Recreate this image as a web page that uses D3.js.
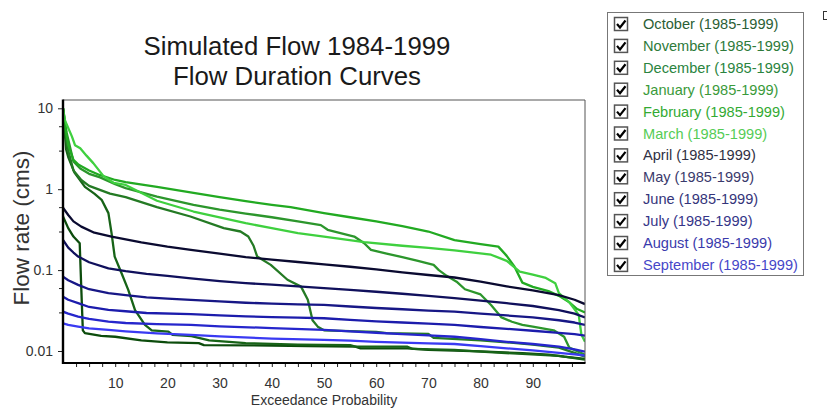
<!DOCTYPE html>
<html><head><meta charset="utf-8">
<script src="https://cdn.jsdelivr.net/npm/d3@7"></script>
<style>
body{margin:0;background:#fff;}
svg{display:block;font-family:"Liberation Sans",Arial,sans-serif;}
</style>
</head><body>
<svg id="chart" width="827" height="409"></svg>
<script>
// ---------------- DATA ----------------
const months = ["October","November","December","January","February","March",
                "April","May","June","July","August","September"];
const period = "(1985-1999)";

// [exceedance probability (%), flow (cms)]
const octFlow = [[0,0.46],[1,0.33],[2,0.26],[3.2,0.215],[3.5,0.06],[3.8,0.018],[4.2,0.0166],[7.3,0.0154],[10,0.015],[15,0.0135],[20,0.0128],[26,0.0125],[27,0.0118],[40,0.0117],[47,0.0115],[56,0.0113],[57,0.0108],[66,0.0108],[70,0.0103],[80,0.0099],[88,0.0094],[93,0.009],[96,0.0085],[100,0.008]];
const novFlow = [[0,10],[0.3,5.5],[0.6,3.1],[1,2.5],[2.2,1.6],[4.2,1.07],[6,0.88],[7.4,0.74],[8.7,0.506],[9.3,0.286],[9.9,0.147],[11.2,0.092],[12.5,0.057],[13.8,0.032],[15.7,0.021],[17,0.018],[20.2,0.0174],[21,0.0158],[24.6,0.0153],[28,0.0135],[35,0.0125],[45,0.012],[55,0.0118],[56,0.0113],[66,0.0113],[67,0.0106],[75,0.0103],[80,0.0098],[88,0.0092],[95,0.0087],[100,0.0078]];
const decFlow = [[0,10],[0.5,4.5],[1,3.0],[2,1.7],[3.5,1.3],[5,1.1],[9,0.88],[12,0.8],[18,0.6],[24.4,0.46],[30.8,0.33],[34,0.30],[35.5,0.26],[36.5,0.2],[37.2,0.147],[39.8,0.116],[43,0.076],[45.6,0.0625],[46.9,0.043],[47.8,0.024],[48.8,0.02],[50,0.018],[60,0.0172],[62,0.0166],[70,0.0163],[71,0.0145],[80,0.0135],[85,0.0128],[90,0.012],[95,0.011],[98,0.0095],[100,0.0085]];
const janFlow = [[0,10],[0.7,5],[2,2.2],[3.3,1.8],[5,1.55],[7.1,1.4],[10,1.15],[12,1.03],[18,0.81],[25,0.64],[30,0.56],[35,0.5],[40,0.45],[45,0.40],[49.4,0.36],[50.7,0.315],[55.8,0.26],[57.7,0.215],[59,0.178],[62,0.16],[65,0.145],[68,0.13],[71,0.116],[72,0.10],[73.5,0.085],[75.4,0.072],[77,0.058],[80,0.05],[82,0.037],[84,0.026],[86,0.023],[88,0.021],[90,0.02],[94,0.018],[96,0.015],[97,0.011],[100,0.009]];
const febFlow = [[0,10],[0.5,5.5],[1,3.5],[2,2.3],[3,2.0],[5,1.7],[7,1.5],[10,1.3],[12,1.22],[18,1.07],[25,0.9],[30,0.8],[35,0.71],[40,0.64],[43.6,0.6],[50,0.506],[55,0.45],[60,0.4],[65,0.35],[70,0.3],[75,0.235],[80,0.21],[83.4,0.195],[85,0.15],[86.5,0.11],[88,0.07],[90,0.062],[93,0.055],[95,0.048],[97,0.04],[98.5,0.033],[100,0.03]];
const marFlow = [[0,10],[0.4,7],[1.7,4.5],[2.3,3.5],[3.3,3.2],[4.5,2.6],[5.8,2.1],[7.8,1.44],[9.7,1.2],[12,1.13],[18,0.72],[25,0.53],[30,0.45],[35,0.38],[40,0.33],[45,0.286],[50,0.26],[57.7,0.222],[65,0.2],[70,0.188],[75,0.175],[82,0.155],[85,0.13],[87.5,0.096],[90,0.088],[92.5,0.08],[94.3,0.069],[95,0.052],[97,0.04],[98.8,0.028],[99.3,0.016],[100,0.013]];
const aprFlow = [[0,0.59],[1,0.48],[2,0.40],[3.5,0.345],[6,0.29],[9.3,0.26],[15,0.22],[20,0.195],[24.5,0.178],[30,0.16],[35,0.145],[40,0.135],[45,0.126],[50,0.118],[55,0.11],[60,0.102],[65,0.094],[70,0.087],[75,0.081],[80,0.072],[85,0.063],[90,0.056],[95,0.049],[98,0.043],[100,0.038]];
const mayFlow = [[0,0.236],[1,0.19],[2,0.165],[2.9,0.147],[5,0.125],[8.7,0.105],[12,0.097],[16,0.09],[20,0.085],[24.5,0.079],[30,0.073],[35,0.069],[40,0.066],[45,0.063],[50,0.06],[55,0.057],[60,0.054],[65,0.051],[70,0.048],[75,0.045],[80,0.042],[85,0.039],[90,0.036],[95,0.032],[98,0.029],[100,0.026]];
const junFlow = [[0,0.083],[1,0.075],[2.9,0.0656],[5,0.058],[8.7,0.0518],[12,0.049],[16,0.046],[20,0.0445],[24.5,0.0428],[30,0.041],[35,0.0395],[40,0.0385],[45,0.0378],[50,0.0371],[55,0.0355],[60,0.034],[65,0.0328],[70,0.0316],[75,0.0306],[80,0.029],[85,0.0275],[90,0.026],[95,0.024],[98,0.0225],[100,0.021]];
const julFlow = [[0,0.047],[1,0.043],[2.9,0.039],[5,0.035],[8.7,0.0322],[12,0.031],[16,0.0295],[24.5,0.0285],[30,0.0275],[35,0.0268],[40,0.0262],[45,0.0258],[50,0.0254],[55,0.0243],[60,0.0233],[65,0.0225],[70,0.0218],[75,0.021],[80,0.0198],[85,0.0188],[90,0.0178],[95,0.0168],[98,0.0162],[100,0.0155]];
const augFlow = [[0,0.0306],[1,0.029],[2.9,0.0266],[5,0.025],[8.7,0.0231],[12,0.0222],[18,0.0215],[24.5,0.021],[30,0.0202],[40,0.0192],[50,0.0182],[55,0.0175],[60,0.0168],[65,0.0162],[70,0.0156],[75,0.015],[80,0.014],[85,0.013],[90,0.0122],[95,0.0113],[98,0.0105],[100,0.0098]];
const sepFlow = [[0,0.022],[1,0.021],[2.9,0.02],[5,0.019],[8.7,0.0182],[12,0.0175],[18,0.0165],[24.5,0.0158],[30,0.0152],[40,0.0142],[50,0.0137],[55,0.0134],[60,0.013],[65,0.0127],[70,0.0124],[75,0.0122],[80,0.0115],[85,0.0108],[90,0.0102],[95,0.0095],[98,0.0091],[100,0.0088]];

const xTickValues = [10,20,30,40,50,60,70,80,90];
const yTickValues = [10,1,0.1,0.01];
const yTickLabels = ["10","1","0.1","0.01"];
const titleLines = ["Simulated Flow 1984-1999","Flow Duration Curves"];

// ---------------- STYLE ----------------
const lineColors = ["#0c4c0c","#176317","#247a24","#2c962c","#22aa22","#3fd03f",
                    "#0a0a30","#10105c","#171786","#1c1cac","#2626cc","#3a3af2"];
const textColors = ["#2b5e35","#2e7a3a","#2a8440","#3a9a3a","#33aa33","#55cc55",
                    "#303044","#3a3a6c","#34347a","#353588","#3a3aac","#4646c8"];

const allSeries = [octFlow,novFlow,decFlow,janFlow,febFlow,marFlow,aprFlow,mayFlow,junFlow,julFlow,augFlow,sepFlow];

const svg = d3.select("#chart");
const L = 63, R = 585, T = 100, B = 363;

const x = d3.scaleLinear().domain([0,100]).range([L, R]);
const y = d3.scaleLog().domain([0.01,10]).range([351,108.3]);

svg.append("defs").append("clipPath").attr("id","plotclip")
  .append("rect").attr("x",L).attr("y",T).attr("width",R-L).attr("height",B-T);

// title
svg.append("g").selectAll("text").data(titleLines).join("text")
  .attr("x",297).attr("y",(d,i)=>55+i*29.5)
  .attr("text-anchor","middle").attr("font-size",25.8).attr("fill","#1a1a1a")
  .text(d=>d);

// lines
const line = d3.line().x(d=>x(d[0])).y(d=>y(d[1]));
svg.append("g").attr("clip-path","url(#plotclip)")
  .selectAll("path").data(allSeries).join("path")
  .attr("d",line).attr("fill","none")
  .attr("stroke",(d,i)=>lineColors[i]).attr("stroke-width",2.3)
  .attr("stroke-linejoin","round");

// frame
svg.append("line").attr("x1",L).attr("x2",R).attr("y1",T).attr("y2",T).attr("stroke","#555").attr("stroke-width",1);
svg.append("line").attr("x1",R).attr("x2",R).attr("y1",T).attr("y2",B).attr("stroke","#555").attr("stroke-width",1);

// x axis
const xMinor = d3.range(2.5,100,2.5);
const xAx = svg.append("g").attr("transform",`translate(0,${B})`)
  .call(d3.axisBottom(x).tickValues(xMinor).tickSize(4).tickPadding(11)
        .tickFormat(d => xTickValues.includes(d) ? String(d) : ""));
xAx.select(".domain").remove();
xAx.selectAll(".tick line").attr("stroke","#222");
xAx.selectAll(".tick text").attr("font-size",14).attr("fill","#333").attr("font-family","Liberation Sans, Arial, sans-serif");

// y axis minor ticks
const yMinor = [];
[0.01,0.1,1].forEach(dec => [3,6].forEach(m => yMinor.push(dec*m)));
const yMin = svg.append("g").attr("transform",`translate(${L},0)`)
  .call(d3.axisLeft(y).tickValues(yMinor).tickSize(4).tickFormat(""));
yMin.select(".domain").remove();
yMin.selectAll(".tick line").attr("stroke","#222");

const yAx = svg.append("g").attr("transform",`translate(${L},0)`)
  .call(d3.axisLeft(y).tickValues(yTickValues).tickSize(5).tickPadding(5)
        .tickFormat((d,i)=>yTickLabels[i]));
yAx.select(".domain").remove();
yAx.selectAll(".tick line").attr("stroke","#222");
yAx.selectAll(".tick text").attr("font-size",14).attr("fill","#333").attr("font-family","Liberation Sans, Arial, sans-serif");

svg.append("line").attr("x1",L).attr("x2",R+0.5).attr("y1",B).attr("y2",B).attr("stroke","#000").attr("stroke-width",2.2);
svg.append("line").attr("x1",L).attr("x2",L).attr("y1",T-0.5).attr("y2",B+1).attr("stroke","#000").attr("stroke-width",2.4);

// axis titles
svg.append("text").attr("x",324).attr("y",405).attr("text-anchor","middle")
  .attr("font-size",14).attr("fill","#333").text("Exceedance Probability");
svg.append("text").attr("transform","translate(29,228) rotate(-90)")
  .attr("text-anchor","middle").attr("font-size",22.5).attr("fill","#333").text("Flow rate (cms)");

// legend
const lg = svg.append("g");
lg.append("rect").attr("x",607.5).attr("y",12.5).attr("width",196).attr("height",263)
  .attr("fill","#fff").attr("stroke","#777").attr("stroke-width",1);
const rows = lg.selectAll("g.row").data(months).join("g").attr("class","row")
  .attr("transform",(d,i)=>`translate(0,${24 + i*21.9})`);
rows.append("rect").attr("x",614.5).attr("y",-6.5).attr("width",13).attr("height",13)
  .attr("fill","#fff").attr("stroke","#555").attr("stroke-width",1.5);
rows.append("path").attr("d","M617,0 L620,3.5 L625.5,-3.5")
  .attr("fill","none").attr("stroke","#000").attr("stroke-width",2.2);
rows.append("text").attr("x",643).attr("y",5).attr("font-size",14.6)
  .attr("fill",(d,i)=>textColors[i]).text(d=>`${d} ${period}`);

// small marker at top right
svg.append("rect").attr("x",823.5).attr("y",11.5).attr("width",5).attr("height",8)
  .attr("fill","none").attr("stroke","#333").attr("stroke-width",1);
</script>
</body></html>
